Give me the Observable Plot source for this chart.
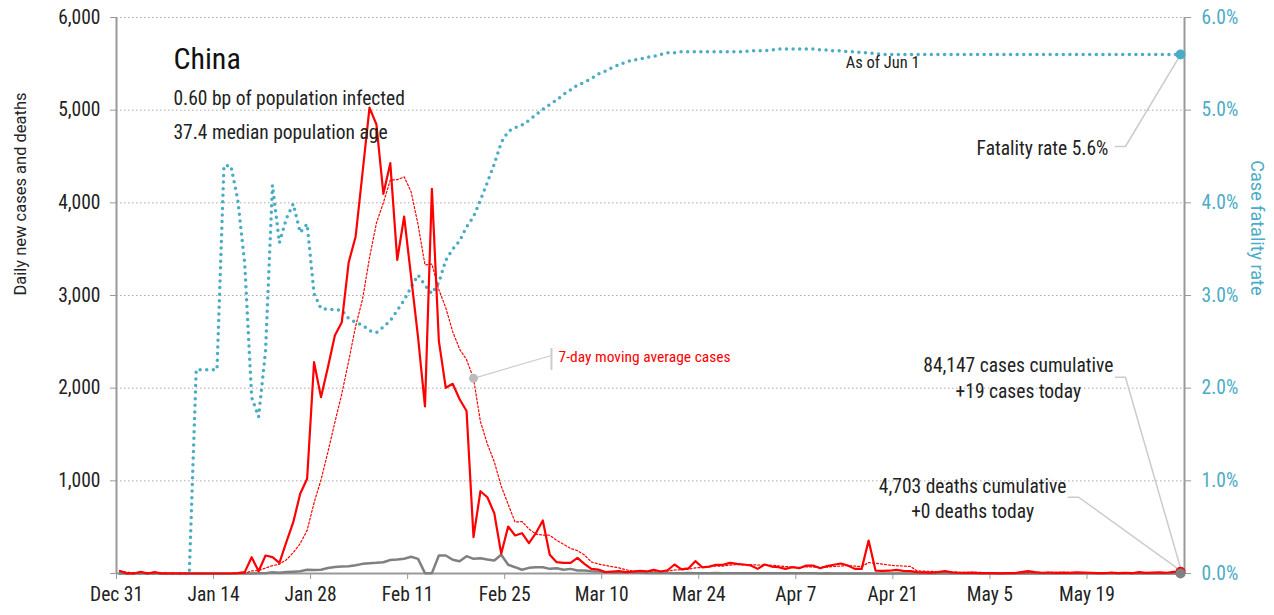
<!DOCTYPE html>
<html><head><meta charset="utf-8">
<script src="https://cdn.jsdelivr.net/npm/d3@7"></script>
<script src="https://cdn.jsdelivr.net/npm/@observablehq/plot@0.6"></script>
<style>body{margin:0;background:#fff}</style>
</head><body><div id="chart"></div>
<script>
// ---- data (China, daily, Dec 31 2019 .. Jun 1 2020) ----
const firstDay = "2019-12-31";
const cases = [
27,0,0,17,0,15,0,0,0,0,
0,0,0,0,0,0,0,4,15,176,
25,194,176,115,338,554,860,1022,2280,1903,
2226,2568,2711,3359,3637,4330,5028,4845,4097,4428,
3385,3852,3200,2550,1802,4151,2514,2004,2047,1880,
1753,392,888,823,650,213,507,410,435,327,
435,572,202,122,115,115,169,104,50,43,
15,20,25,15,20,28,22,40,22,35,
97,45,55,133,67,74,94,94,115,104,
97,86,50,97,75,68,50,68,57,86,
86,57,79,94,108,86,50,50,356,32,
28,30,40,28,25,14,12,10,15,25,
12,8,6,10,5,3,4,2,5,3,
14,25,15,8,10,7,10,6,12,10,
8,5,3,11,5,8,3,15,6,10,
12,8,17,19];
const deaths = [
0,0,0,0,0,0,0,0,0,0,
0,1,0,0,0,1,0,0,0,1,
2,3,14,8,16,20,25,40,38,40,
60,70,76,79,90,104,111,115,122,145,
150,160,180,158,4,4,194,194,148,133,
187,158,165,151,140,202,94,68,40,61,
68,68,50,57,40,50,32,32,25,22,
15,12,10,12,10,8,6,7,5,6,
4,4,5,4,4,3,5,3,4,3,
2,3,4,3,2,2,3,2,2,3,
2,1,2,1,1,1,1,0,0,0,
0,0,0,0,0,0,0,0,0,0,
0,0,0,0,0,0,0,0,0,0,
0,0,0,0,0,0,0,0,0,0,
0,0,0,0,0,0,0,0,0,0,
0,0,0,0];
const cfrPct = [
0,0,0,0,0,0,0,0,0,0,
0,2.2,2.2,2.2,2.2,4.4,4.4,4.03,3.34,1.9,
1.69,2.4,4.19,3.57,3.83,3.99,3.68,3.77,3.02,2.86,
2.85,2.85,2.84,2.75,2.71,2.68,2.62,2.6,2.66,2.73,
2.84,2.95,3.09,3.22,3.11,3.02,3.14,3.38,3.5,3.59,
3.74,3.85,4.03,4.22,4.42,4.65,4.77,4.81,4.84,4.89,
4.95,5.01,5.06,5.11,5.17,5.22,5.27,5.3,5.34,5.39,
5.42,5.46,5.49,5.52,5.54,5.55,5.57,5.58,5.6,5.62,
5.62,5.63,5.63,5.63,5.63,5.63,5.63,5.63,5.63,5.63,
5.63,5.64,5.64,5.64,5.65,5.66,5.66,5.66,5.66,5.66,
5.66,5.65,5.65,5.64,5.64,5.63,5.63,5.62,5.62,5.61,
5.6,5.6,5.6,5.6,5.6,5.6,5.6,5.6,5.6,5.6,
5.6,5.6,5.6,5.6,5.6,5.6,5.6,5.6,5.6,5.6,
5.6,5.6,5.6,5.6,5.6,5.6,5.6,5.6,5.6,5.6,
5.6,5.6,5.6,5.6,5.6,5.6,5.6,5.6,5.6,5.6,
5.6,5.6,5.6,5.6];

const xTickDates = ["2019-12-31","2020-01-14","2020-01-28","2020-02-11","2020-02-25","2020-03-10","2020-03-24","2020-04-07","2020-04-21","2020-05-05","2020-05-19"];
const xTickLabels = ["Dec 31","Jan 14","Jan 28","Feb 11","Feb 25","Mar 10","Mar 24","Apr 7","Apr 21","May 5","May 19"];
const yTicks = [0,1000,2000,3000,4000,5000,6000];
const yTickLabels = ["","1,000","2,000","3,000","4,000","5,000","6,000"];
const cfrTickLabels = ["0.0%","1.0%","2.0%","3.0%","4.0%","5.0%","6.0%"];

const titleText = "China";
const subLines = ["0.60 bp of population infected","37.4 median population age"];
const casesNote = "84,147 cases cumulative\n+19 cases today";
const deathsNote = "4,703 deaths cumulative\n+0 deaths today";
const cfrNote = "Fatality rate 5.6%";
const asOfNote = "As of Jun 1";
const maNote = "7-day moving average cases";

// ---- build table ----
const DAY = 864e5;
const t0 = Date.parse(firstDay + "T00:00:00Z");
const at = (days) => new Date(t0 + days * DAY);
const rows = cases.map((c, i) => ({date: at(i + 0.5), cases: c, deaths: deaths[i], cfr: cfrPct[i] * 1000}));
const last = rows[rows.length - 1];
const maIdx = 51;
const maRow = {date: rows[maIdx].date, v: d3.mean(cases.slice(maIdx - 6, maIdx + 1))};

const FONT = "'Roboto Condensed','Liberation Sans Narrow',sans-serif";
const TITLEFONT = "Roboto,'Liberation Sans',sans-serif";
const TEAL = "#4bacc6";
const LEAD = "#cccccc";

const xDomain = [at(0), at(154.07)];

const plot = Plot.plot({
  width: 1274, height: 615,
  marginLeft: 116, marginRight: 90, marginTop: 17, marginBottom: 42,
  style: {fontFamily: FONT, fontSize: "19px", color: "#222", background: "#fff"},
  x: {type: "utc", domain: xDomain, label: null},
  y: {domain: [0, 6000], label: null},
  marks: [
    Plot.gridY(yTicks.slice(1), {stroke: "#aaa", strokeOpacity: 1, strokeWidth: 1, strokeDasharray: "1.5,2.5"}),
    Plot.axisY(yTicks, {anchor: "left", tickSize: 6, tickPadding: 10, stroke: "#999", fill: "#222", fontSize: 19.5,
      tickFormat: d => yTickLabels[yTicks.indexOf(d)], label: null}),
    Plot.axisY(yTicks, {anchor: "right", tickSize: 6, tickPadding: 11, stroke: "#999", fill: TEAL, fontSize: 19.5,
      tickFormat: d => cfrTickLabels[yTicks.indexOf(d)], label: null}),
    Plot.axisX(xTickDates.map(s => new Date(s + "T00:00:00Z")), {anchor: "bottom", tickSize: 6, tickPadding: 8, stroke: "#999", fill: "#222", fontSize: 19.5,
      tickFormat: d => xTickLabels[xTickDates.indexOf(d.toISOString().slice(0, 10))], label: null}),
    Plot.ruleX(xDomain, {y1: 0, y2: 6000, stroke: "#999", strokeWidth: 2}),
    Plot.ruleY([0], {stroke: "#999", strokeWidth: 2}),

    // axis titles
    Plot.text(["Daily new cases and deaths"], {frameAnchor: "left", dx: -96, rotate: -90, fontSize: 16.5, fontFamily: TITLEFONT, fill: "#222"}),
    Plot.text(["Case fatality rate"], {frameAnchor: "right", dx: 72, rotate: 90, fontSize: 18, fontFamily: TITLEFONT, fill: TEAL}),

    // leader lines
    Plot.line([{d: last.date, v: last.cfr}, {d: at(145.55), v: 4608}, {d: at(144.1), v: 4608}], {x: "d", y: "v", stroke: LEAD, strokeWidth: 1.5}),
    Plot.line([{d: last.date, v: 60}, {d: at(145.55), v: 2118}, {d: at(144.1), v: 2118}], {x: "d", y: "v", stroke: LEAD, strokeWidth: 1.5}),
    Plot.line([{d: last.date, v: 30}, {d: at(138.8), v: 823}, {d: at(137.3), v: 823}], {x: "d", y: "v", stroke: LEAD, strokeWidth: 1.5}),
    Plot.line([{d: maRow.date, v: maRow.v}, {d: at(62.75), v: 2353}], {x: "d", y: "v", stroke: LEAD, strokeWidth: 1.2}),
    Plot.ruleX([at(62.75)], {y1: 2191, y2: 2428, stroke: LEAD, strokeWidth: 2}),

    // series
    Plot.line(rows, {x: "date", y: "cfr", stroke: TEAL, strokeWidth: 3.5, strokeDasharray: "0,6.6", strokeLinecap: "round"}),
    Plot.line(rows, {x: "date", y: "deaths", stroke: "#808080", strokeWidth: 2.5}),
    Plot.line(rows, Plot.windowY({k: 7, anchor: "end", reduce: "mean"}, {x: "date", y: "cases", stroke: "#ff0000", strokeWidth: 1.2, strokeDasharray: "2,2"})),
    Plot.line(rows, {x: "date", y: "cases", stroke: "#ff0000", strokeWidth: 2.2}),

    // end dots
    Plot.dot([last], {x: "date", y: "cfr", r: 5, fill: TEAL}),
    Plot.dot([last], {x: "date", y: "cases", r: 5, fill: "#ff0000"}),
    Plot.dot([last], {x: "date", y: "deaths", r: 5, fill: "#808080"}),
    Plot.dot([maRow], {x: "date", y: "v", r: 4.5, fill: "#bbb"}),

    // annotations
    Plot.text([titleText], {x: at(8.22), y: 5439, textAnchor: "start", lineAnchor: "bottom", fontSize: 30, fill: "#111"}),
    Plot.text([subLines[0]], {x: at(8.22), y: 5061, textAnchor: "start", lineAnchor: "bottom", fontSize: 19.5, fill: "#222"}),
    Plot.text([subLines[1]], {x: at(8.22), y: 4694, textAnchor: "start", lineAnchor: "bottom", fontSize: 19.5, fill: "#222"}),
    Plot.text([asOfNote], {x: at(105.2), y: 5450, textAnchor: "start", lineAnchor: "bottom", fontSize: 16.5, fill: "#222"}),
    Plot.text([cfrNote], {x: at(143.1), y: 4511, textAnchor: "end", lineAnchor: "bottom", fontSize: 19.5, fill: "#222"}),
    Plot.text([casesNote], {x: at(130.1), y: 1899, textAnchor: "middle", lineAnchor: "bottom", lineHeight: 1.3, fontSize: 19.5, fill: "#222"}),
    Plot.text([deathsNote], {x: at(123.5), y: 604, textAnchor: "middle", lineAnchor: "bottom", lineHeight: 1.27, fontSize: 19.5, fill: "#222"}),
    Plot.text([maNote], {x: at(63.76), y: 2277, textAnchor: "start", lineAnchor: "bottom", fontSize: 15.5, fill: "#ff0000"})
  ]
});
document.getElementById("chart").appendChild(plot);
</script>
</body></html>
